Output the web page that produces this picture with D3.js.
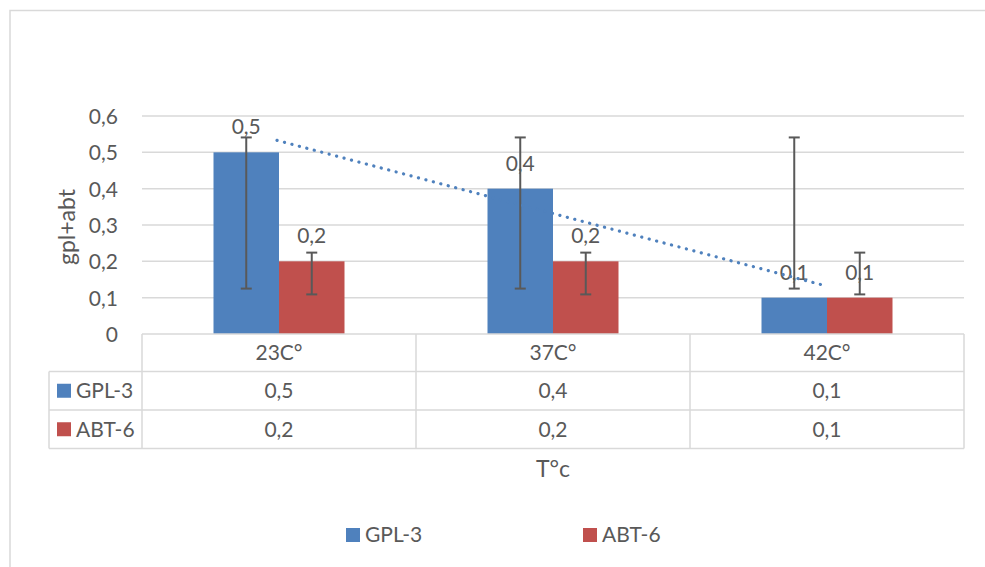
<!DOCTYPE html>
<html><head><meta charset="utf-8">
<script src="https://cdn.jsdelivr.net/npm/d3@7"></script>
<style>
html,body{margin:0;padding:0;background:#fff;}
text{font-family:Lato,"Liberation Sans",sans-serif;fill:#595959;}
</style></head>
<body>
<svg id="c" width="985" height="567"></svg>
<script>
// ---- data ----
const categories = ["23C°", "37C°", "42C°"];
const seriesNames = ["GPL-3", "ABT-6"];
const gplValues = [0.5, 0.4, 0.1];
const abtValues = [0.2, 0.2, 0.1];
const gplErrLow = [0.125, 0.125, 0.125];
const gplErrHigh = [0.541, 0.541, 0.541];
const abtErrLow = [0.109, 0.109, 0.109];
const abtErrHigh = [0.224, 0.224, 0.224];
const trendValues = [0.533, 0.133]; // linear trendline of GPL-3 (first & last category)
const yTicks = [0, 0.1, 0.2, 0.3, 0.4, 0.5, 0.6];
const colors = ["#4f81bd", "#c0504d"];

(function () {
const fmt = v => String(v).replace(".", ",");
const FS = 21, TFS = 23;
const series = [
  {name: seriesNames[0], values: gplValues, lo: gplErrLow, hi: gplErrHigh, color: colors[0]},
  {name: seriesNames[1], values: abtValues, lo: abtErrLow, hi: abtErrHigh, color: colors[1]}
];

const svg = d3.select("#c");
const grid = "#d9d9d9";

// outer chart border
svg.append("rect").attr("x", 10).attr("y", 10.5).attr("width", 990).attr("height", 570)
  .attr("fill", "none").attr("stroke", grid).attr("stroke-width", 1.5);

const pLeft = 142, pRight = 964, pTop = 116, pBottom = 334;
const x0 = d3.scaleBand().domain(categories).range([pLeft, pRight]).padding(0);
const groupPad = (x0.bandwidth() - 131) / 2;
const x1 = d3.scaleBand().domain(seriesNames).range([groupPad, x0.bandwidth() - groupPad]).padding(0);
const y = d3.scaleLinear().domain([0, 0.6]).range([pBottom, pTop]);

// gridlines
svg.append("g").selectAll("line").data(yTicks.filter(t => t > 0)).join("line")
  .attr("x1", pLeft).attr("x2", pRight).attr("y1", d => y(d)).attr("y2", d => y(d))
  .attr("stroke", grid).attr("stroke-width", 1.5);

// y axis labels
const yAxis = d3.axisLeft(y).tickValues(yTicks).tickFormat(fmt).tickSize(0).tickPadding(0);
const ya = svg.append("g").attr("transform", "translate(118,0)").call(yAxis);
ya.select(".domain").remove();
ya.selectAll("text").attr("font-size", FS).attr("fill", "#595959")
  .style("font-family", "Lato, sans-serif").attr("dy", "0.35em");

// y axis title
svg.append("text").attr("transform", "translate(75,227) rotate(-90)")
  .attr("text-anchor", "middle").attr("font-size", TFS).text("gpl+abt");

// bars
const groups = svg.append("g").selectAll("g").data(categories).join("g")
  .attr("transform", d => `translate(${x0(d)},0)`);
series.forEach(s => {
  groups.append("rect")
    .attr("x", () => x1(s.name))
    .attr("y", (d, i) => y(s.values[i]))
    .attr("width", x1.bandwidth())
    .attr("height", (d, i) => y(0) - y(s.values[i]))
    .attr("fill", s.color);
});

// trendline (dotted)
const cx = c => x0(c) + x0.bandwidth() / 2 - 2;
svg.append("line")
  .attr("x1", cx(categories[0])).attr("y1", y(trendValues[0]))
  .attr("x2", cx(categories[categories.length - 1])).attr("y2", y(trendValues[1]))
  .attr("stroke", "#4f81bd").attr("stroke-width", 3.2)
  .attr("stroke-linecap", "round").attr("stroke-dasharray", "0.1 7.6");

// error bars
series.forEach(s => {
  const g = groups.append("g").attr("transform", `translate(${x1(s.name) + x1.bandwidth() / 2},0)`);
  g.append("line").attr("x1", 0).attr("x2", 0)
    .attr("y1", (d, i) => y(s.lo[i])).attr("y2", (d, i) => y(s.hi[i]))
    .attr("stroke", "#595959").attr("stroke-width", 2);
  ["lo", "hi"].forEach(k => {
    g.append("line").attr("x1", -5.5).attr("x2", 5.5)
      .attr("y1", (d, i) => y(s[k][i])).attr("y2", (d, i) => y(s[k][i]))
      .attr("stroke", "#595959").attr("stroke-width", 2);
  });
});

// data labels
series.forEach(s => {
  groups.append("text")
    .attr("x", x1(s.name) + x1.bandwidth() / 2)
    .attr("y", (d, i) => y(s.values[i]) - 18)
    .attr("text-anchor", "middle").attr("font-size", FS)
    .text((d, i) => fmt(s.values[i]));
});

// data table
const rowY = [pBottom, 371.5, 410, 448.5];
const tblLeft = 49;
const tl = svg.append("g").attr("stroke", grid).attr("stroke-width", 1.5);
tl.append("line").attr("x1", pLeft).attr("x2", pRight).attr("y1", rowY[0]).attr("y2", rowY[0]);
[1, 2, 3].forEach(r => tl.append("line").attr("x1", tblLeft).attr("x2", pRight).attr("y1", rowY[r]).attr("y2", rowY[r]));
tl.append("line").attr("x1", tblLeft).attr("x2", tblLeft).attr("y1", rowY[1]).attr("y2", rowY[3]);
[pLeft, ...categories.map(c => x0(c) + x0.bandwidth())].forEach(xv =>
  tl.append("line").attr("x1", xv).attr("x2", xv).attr("y1", rowY[0]).attr("y2", rowY[3]));

const rowMid = r => (rowY[r] + rowY[r + 1]) / 2;
svg.append("g").selectAll("text").data(categories).join("text")
  .attr("x", d => x0(d) + x0.bandwidth() / 2).attr("y", rowMid(0)).attr("dy", "0.35em")
  .attr("text-anchor", "middle").attr("font-size", FS).text(d => d);
series.forEach((s, si) => {
  const ym = rowMid(si + 1);
  svg.append("rect").attr("x", 57).attr("y", ym - 7).attr("width", 14).attr("height", 14).attr("fill", s.color);
  svg.append("text").attr("x", 76).attr("y", ym).attr("dy", "0.35em").attr("font-size", FS).text(s.name);
  svg.append("g").selectAll("text").data(categories).join("text")
    .attr("x", d => x0(d) + x0.bandwidth() / 2).attr("y", ym).attr("dy", "0.35em")
    .attr("text-anchor", "middle").attr("font-size", FS)
    .text((d, i) => fmt(s.values[i]));
});

// x axis title
svg.append("text").attr("x", (pLeft + pRight) / 2).attr("y", 469).attr("dy", "0.35em")
  .attr("text-anchor", "middle").attr("font-size", TFS).text("T°c");

// legend
const legX = [346, 583];
series.forEach((s, i) => {
  svg.append("rect").attr("x", legX[i]).attr("y", 528).attr("width", 14).attr("height", 14).attr("fill", s.color);
  svg.append("text").attr("x", legX[i] + 19).attr("y", 535).attr("dy", "0.35em").attr("font-size", FS).text(s.name);
});
})();
</script>
</body></html>
